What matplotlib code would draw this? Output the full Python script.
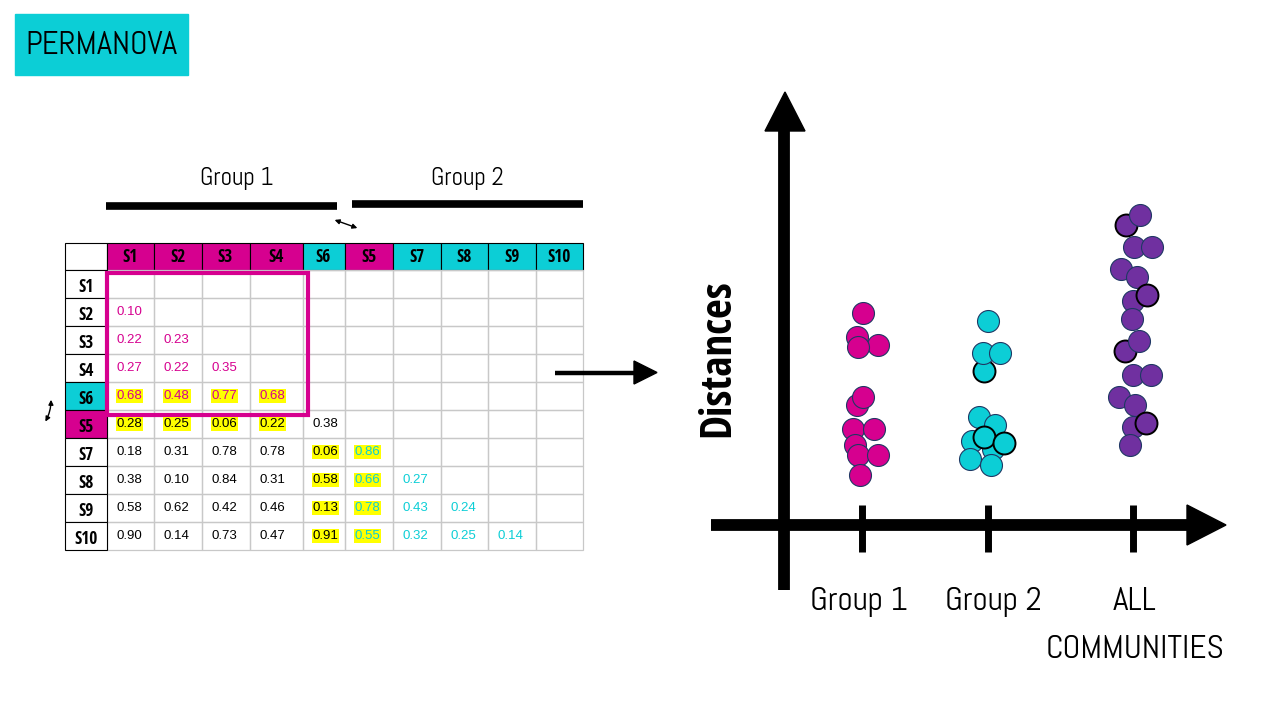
import numpy as np
import matplotlib
matplotlib.use('Agg')
import matplotlib.pyplot as plt
from matplotlib.patches import Rectangle, Polygon
from matplotlib import font_manager as fm

# colours
MAGENTA = '#D6008F'
CYAN = '#0CCED6'
PURPLE = '#7030A0'
YELLOW = '#FFFF00'
EDGE = '#1F3864'

# pick a condensed face if one is around, else fall back
_have = {f.name for f in fm.fontManager.ttflist}
def pick(cands):
    for c in cands:
        if c in _have:
            return [c, 'DejaVu Sans']
    return ['DejaVu Sans']

NARROW = pick(['Abel', 'Open Sans Condensed', 'Liberation Sans Narrow', 'Roboto Condensed'])
NARROW_B = pick(['Open Sans Condensed', 'Roboto Condensed', 'Fjalla One', 'Liberation Sans Narrow'])
PLAIN = ['Liberation Sans', 'DejaVu Sans']

# ---- data ----
samples = ['S1', 'S2', 'S3', 'S4', 'S6', 'S5', 'S7', 'S8', 'S9', 'S10']
orig_group = [1, 1, 1, 1, 2, 1, 2, 2, 2, 2]      # colour of header cells
swapped = ['S5', 'S6']
dist_rows = [
    [],
    [0.10],
    [0.22, 0.23],
    [0.27, 0.22, 0.35],
    [0.68, 0.48, 0.77, 0.68],
    [0.28, 0.25, 0.06, 0.22, 0.38],
    [0.18, 0.31, 0.78, 0.78, 0.06, 0.86],
    [0.38, 0.10, 0.84, 0.31, 0.58, 0.66, 0.27],
    [0.58, 0.62, 0.42, 0.46, 0.13, 0.78, 0.43, 0.24],
    [0.90, 0.14, 0.73, 0.47, 0.91, 0.55, 0.32, 0.25, 0.14],
]

categories = ['Group 1', 'Group 2', 'ALL\nCOMMUNITIES']
group_pos = [1.0, 2.0, 3.15]
label_dx = [-0.025, 0.04, 0.015]

g1_jitter = [0.005, -0.04, 0.125, -0.03, -0.04, 0.005, -0.075, 0.095, -0.055, -0.035, 0.13, -0.015]
g1_dist = [0.53, 0.47, 0.45, 0.445, 0.30, 0.32, 0.24, 0.24, 0.20, 0.175, 0.175, 0.125]
g1_black = [0] * 12

g2_jitter = [0.0, -0.03, -0.04, 0.095, -0.07, 0.055, -0.13, 0.04, -0.145, 0.02, -0.035, 0.13]
g2_dist = [0.51, 0.385, 0.43, 0.43, 0.27, 0.25, 0.21, 0.19, 0.165, 0.15, 0.22, 0.205]
g2_black = [0, 1, 0, 0, 0, 0, 0, 0, 0, 0, 1, 1]

g3_jitter = [-0.055, 0.06, 0.01, 0.15, -0.095, 0.03, 0.0, 0.11, -0.005, -0.065, 0.05,
             0.0, 0.14, -0.11, 0.02, 0.0, 0.10, -0.02]
g3_dist = [0.75, 0.775, 0.695, 0.695, 0.64, 0.62, 0.56, 0.575, 0.515, 0.435, 0.46,
           0.375, 0.375, 0.32, 0.30, 0.245, 0.255, 0.20]
g3_black = [1, 0, 0, 0, 0, 0, 0, 1, 0, 1, 0, 0, 0, 0, 0, 0, 1, 0]

# ---- figure, overlay in pixel units ----
fig = plt.figure(figsize=(12.8, 7.2), dpi=100)
ax = fig.add_axes([0, 0, 1, 1])
ax.set_xlim(0, 1280)
ax.set_ylim(720, 0)
ax.axis('off')

# title box
ax.add_patch(Rectangle((15, 14), 173, 61, color=CYAN))
ax.text(101, 46, 'PERMANOVA', family=NARROW, fontsize=23.5, ha='center', va='center')

# group bars above table
ax.text(237, 178, 'Group 1', family=NARROW, fontsize=18, ha='center', va='center')
ax.text(467, 178, 'Group 2', family=NARROW, fontsize=18, ha='center', va='center')
ax.plot([106, 337], [205.5, 205.5], color='black', lw=5.5, solid_capstyle='butt')
ax.plot([352, 583], [203.5, 203.5], color='black', lw=5.5, solid_capstyle='butt')
ax.annotate('', xy=(360, 229), xytext=(332, 219),
            arrowprops=dict(arrowstyle='<|-|>', color='black', lw=1.0, mutation_scale=7))
ax.annotate('', xy=(44, 424), xytext=(51, 397),
            arrowprops=dict(arrowstyle='<|-|>', color='black', lw=1.0, mutation_scale=7,
                            connectionstyle='arc3,rad=-0.15'))

# ---- table ----
col_w = [47.5, 47.5, 48, 53, 42, 48, 48, 47.5, 47.5, 47.5]
col_x = 106.5 + np.concatenate([[0], np.cumsum(col_w)])
lab_x0 = 65
head_y0, head_h = 243, 27
row_h = 28
row_y = head_y0 + head_h + row_h * np.arange(len(samples) + 1)

# header row
ax.add_patch(Rectangle((lab_x0, head_y0), col_x[0] - lab_x0, head_h, fc='white', ec='black', lw=0.8))
for j, s in enumerate(samples):
    c = MAGENTA if orig_group[j] == 1 else CYAN
    ax.add_patch(Rectangle((col_x[j], head_y0), col_w[j], head_h, fc=c, ec='black', lw=0.8))
    ax.text(col_x[j] + col_w[j] / 2, head_y0 + head_h / 2 + 1, s, family=NARROW_B,
            fontweight='bold', fontsize=12.5, ha='center', va='center')

# data grid (light gray)
for i in range(len(samples)):
    for j in range(len(samples)):
        ax.add_patch(Rectangle((col_x[j], row_y[i]), col_w[j], row_h, fc='none',
                               ec='#C8C8C8', lw=0.9))

# row labels
for i, s in enumerate(samples):
    fc = 'white'
    if s in swapped:
        fc = MAGENTA if orig_group[i] == 1 else CYAN
    ax.add_patch(Rectangle((lab_x0, row_y[i]), col_x[0] - lab_x0, row_h, fc=fc, ec='black', lw=0.8))
    ax.text((lab_x0 + col_x[0]) / 2, row_y[i] + row_h / 2 + 3, s, family=NARROW_B,
            fontweight='bold', fontsize=12.5, ha='center', va='center')

# values
for i, row in enumerate(dist_rows):
    for j, v in enumerate(row):
        gi, gj = (i >= 5), (j >= 5)
        if not gi and not gj:
            tc = MAGENTA
        elif gi and gj:
            tc = CYAN
        else:
            tc = 'black'
        hl = (samples[i] in swapped) != (samples[j] in swapped)
        bbox = dict(fc=YELLOW, ec='none', pad=0.6) if hl else None
        ax.text(col_x[j] + 10, row_y[i] + row_h / 2, '%.2f' % v, family=PLAIN,
                fontsize=9.5, color=tc, ha='left', va='center', bbox=bbox)

# pink frame around group 1 block
ax.add_patch(Rectangle((107, 273), 201, 142, fc='none', ec=MAGENTA, lw=3))

# arrow table -> plot
ax.plot([555, 636], [372.5, 372.5], color='black', lw=3.2, solid_capstyle='butt')
ax.add_patch(Polygon([[634, 361], [657, 372.5], [634, 384]], closed=True, color='black'))

# plot axes (drawn as thick arrows)
ax.plot([783.5, 783.5], [590, 126], color='black', lw=8.5, solid_capstyle='butt')
ax.add_patch(Polygon([[765, 131], [785, 92], [805, 131]], closed=True, color='black'))
ax.plot([711, 1190], [525, 525], color='black', lw=8.5, solid_capstyle='butt')
ax.add_patch(Polygon([[1187, 505], [1226, 525], [1187, 545]], closed=True, color='black'))
ax.text(718, 358, 'Distances', family=NARROW_B, fontweight='bold', fontsize=31,
        rotation=90, ha='center', va='center')

# ---- scatter in its own axes ----
sax = fig.add_axes([700 / 1280, 120 / 720, 540 / 1280, 520 / 720])
sax.set_xlim(1 - 162 / 126, 1 + 378 / 126)
sax.set_ylim(-75 / 400, 445 / 400)
sax.axis('off')

sax.vlines(group_pos, -0.0675, 0.05, color='black', lw=5)

groups = [(g1_jitter, g1_dist, g1_black, MAGENTA),
          (g2_jitter, g2_dist, g2_black, CYAN),
          (g3_jitter, g3_dist, g3_black, PURPLE)]
for k, (jit, dist, blk, col) in enumerate(groups):
    for dx, d, b in zip(jit, dist, blk):
        sax.scatter(group_pos[k] + dx, d, s=250, color=col,
                    edgecolors='black' if b else EDGE, linewidths=1.4 if b else 0.8,
                    zorder=3, clip_on=False)

for k, lab in enumerate(categories):
    sax.text(group_pos[k] + label_dx[k], -0.155, lab, family=NARROW, fontsize=24,
             ha='center', va='top', linespacing=1.8)

fig.savefig('out.png', dpi=100)
